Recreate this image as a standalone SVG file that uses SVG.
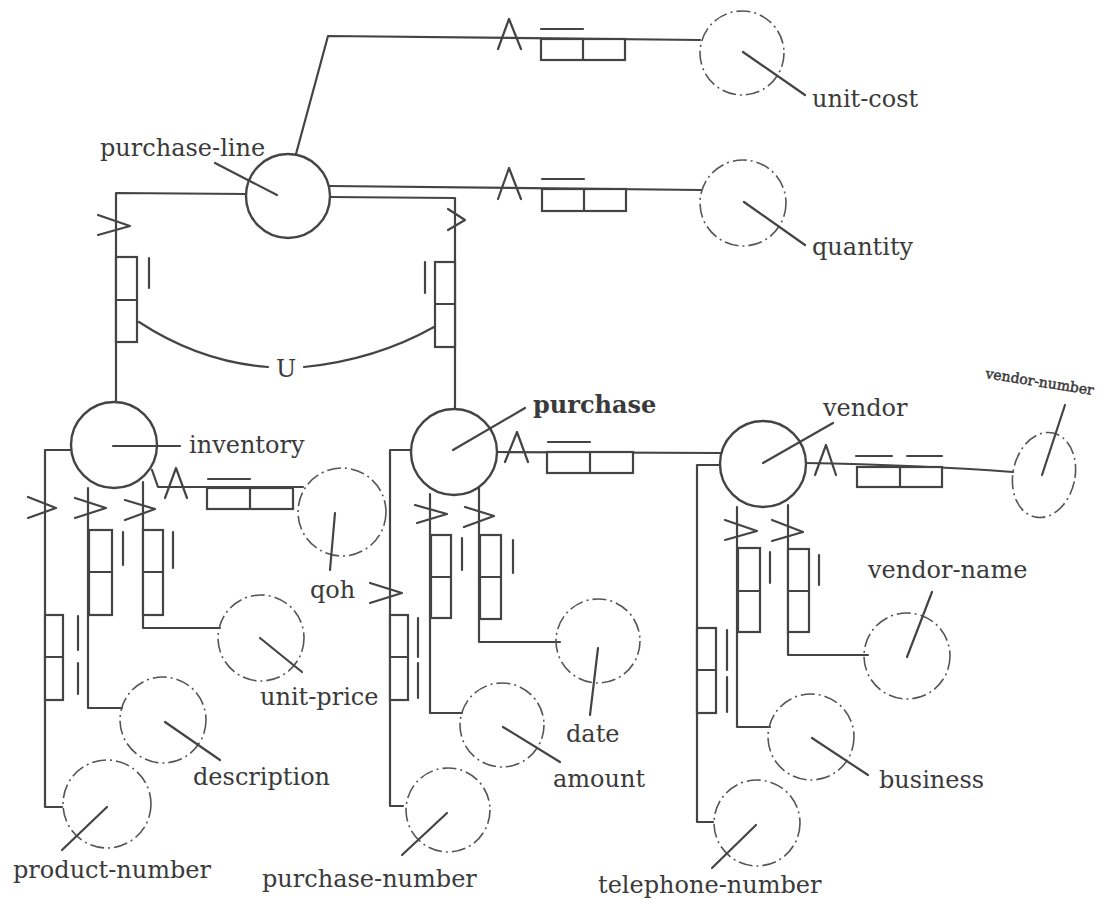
<svg xmlns="http://www.w3.org/2000/svg" width="1109" height="905" viewBox="0 0 1109 905">
<style>
.ln{fill:none;stroke:#444;stroke-width:2.2;stroke-linecap:round;stroke-linejoin:round}
.ent{fill:#fff;stroke:#444;stroke-width:2.4}
.att{fill:none;stroke:#555;stroke-width:1.6;stroke-dasharray:14 4 2 4}
.bx{fill:#fff;stroke:#444;stroke-width:2.2}
.t{font-family:"DejaVu Serif","Liberation Serif",serif;font-size:24px;fill:#3a3a3a}
.small{font-size:14px;stroke:#3a3a3a;stroke-width:0.5}
</style>
<rect width="1109" height="905" fill="#fff"/>
<g id="connectors">
  <!-- purchase-line to unit-cost -->
  <polyline class="ln" points="296,154 328,36 700,40"/>
  <polyline class="ln" points="498,49 509,19 521,49"/>
  <line class="ln" x1="541" y1="29" x2="583" y2="29"/>
  <rect class="bx" x="541" y="39" width="84" height="21"/>
  <line class="ln" x1="583" y1="39" x2="583" y2="60"/>
  <!-- purchase-line to quantity -->
  <polyline class="ln" points="329,186 701,190"/>
  <polyline class="ln" points="498,199 509,168 521,199"/>
  <line class="ln" x1="542" y1="179" x2="584" y2="179"/>
  <rect class="bx" x="542" y="189" width="84" height="22"/>
  <line class="ln" x1="584" y1="189" x2="584" y2="211"/>
  <!-- purchase-line to inventory / purchase (union) -->
  <polyline class="ln" points="247,194 116,193 116,402"/>
  <polyline class="ln" points="329,197 455,198 455,409"/>
  <polyline class="ln" points="98,215 130,226 98,235"/>
  <polyline class="ln" points="448,209 465,220 448,230"/>
  <rect class="bx" x="116" y="257" width="21" height="85"/>
  <line class="ln" x1="116" y1="300" x2="137" y2="300"/>
  <line class="ln" x1="149" y1="258" x2="149" y2="288"/>
  <rect class="bx" x="435" y="262" width="20" height="85"/>
  <line class="ln" x1="435" y1="304" x2="455" y2="304"/>
  <line class="ln" x1="425" y1="262" x2="425" y2="293"/>
  <path class="ln" d="M139,322 Q200,362 268,367"/>
  <path class="ln" d="M304,367 Q375,360 434,327"/>
  <text class="t" x="286" y="377" text-anchor="middle">U</text>
  <!-- inventory branches -->
  <polyline class="ln" points="71,450 45,450 45,807 62,807"/>
  <polyline class="ln" points="28,497 56,508 28,518"/>
  <rect class="bx" x="45" y="615" width="18" height="85"/>
  <line class="ln" x1="45" y1="657" x2="63" y2="657"/>
  <line class="ln" x1="78" y1="616" x2="78" y2="650"/>
  <line class="ln" x1="78" y1="663" x2="78" y2="694"/>
  <polyline class="ln" points="88,488 88,708 122,708"/>
  <polyline class="ln" points="75,498 106,508 75,518"/>
  <rect class="bx" x="89" y="530" width="23" height="85"/>
  <line class="ln" x1="89" y1="572" x2="112" y2="572"/>
  <line class="ln" x1="123" y1="532" x2="123" y2="565"/>
  <polyline class="ln" points="143,482 143,628 220,628"/>
  <polyline class="ln" points="125,500 155,509 125,520"/>
  <rect class="bx" x="143" y="530" width="20" height="85"/>
  <line class="ln" x1="143" y1="572" x2="163" y2="572"/>
  <line class="ln" x1="173" y1="532" x2="173" y2="568"/>
  <polyline class="ln" points="152,470 158,487 303,487"/>
  <polyline class="ln" points="165,498 176,468 187,498"/>
  <line class="ln" x1="208" y1="479" x2="250" y2="479"/>
  <rect class="bx" x="207" y="488" width="86" height="21"/>
  <line class="ln" x1="250" y1="488" x2="250" y2="509"/>
  <!-- purchase branches -->
  <polyline class="ln" points="412,450 390,450 390,806 403,806"/>
  <polyline class="ln" points="370,583 402,593 370,603"/>
  <rect class="bx" x="390" y="615" width="18" height="85"/>
  <line class="ln" x1="390" y1="657" x2="408" y2="657"/>
  <line class="ln" x1="418" y1="618" x2="418" y2="657"/>
  <line class="ln" x1="418" y1="663" x2="418" y2="698"/>
  <polyline class="ln" points="430,494 430,713 462,713"/>
  <polyline class="ln" points="415,505 447,514 417,523"/>
  <rect class="bx" x="431" y="535" width="20" height="83"/>
  <line class="ln" x1="431" y1="577" x2="451" y2="577"/>
  <line class="ln" x1="462" y1="538" x2="462" y2="570"/>
  <polyline class="ln" points="479,486 479,642 560,642"/>
  <polyline class="ln" points="465,507 494,516 464,527"/>
  <rect class="bx" x="480" y="535" width="21" height="84"/>
  <line class="ln" x1="480" y1="577" x2="501" y2="577"/>
  <line class="ln" x1="513" y1="540" x2="513" y2="573"/>
  <!-- purchase to vendor -->
  <polyline class="ln" points="497,452 721,453"/>
  <polyline class="ln" points="505,462 517,432 528,462"/>
  <line class="ln" x1="548" y1="442" x2="590" y2="442"/>
  <rect class="bx" x="547" y="452" width="86" height="21"/>
  <line class="ln" x1="590" y1="452" x2="590" y2="473"/>
  <!-- vendor to vendor-number -->
  <path class="ln" d="M805,463 Q920,465 1013,472"/>
  <polyline class="ln" points="815,475 826,445 836,475"/>
  <line class="ln" x1="856" y1="456" x2="892" y2="456"/>
  <line class="ln" x1="907" y1="456" x2="942" y2="456"/>
  <rect class="bx" x="857" y="467" width="85" height="20"/>
  <line class="ln" x1="900" y1="467" x2="900" y2="487"/>
  <!-- vendor branches -->
  <polyline class="ln" points="720,465 697,465 697,822 713,822"/>
  <rect class="bx" x="697" y="628" width="19" height="85"/>
  <line class="ln" x1="697" y1="670" x2="716" y2="670"/>
  <line class="ln" x1="727" y1="630" x2="727" y2="670"/>
  <line class="ln" x1="727" y1="677" x2="727" y2="712"/>
  <polyline class="ln" points="737,507 737,727 770,727"/>
  <polyline class="ln" points="725,520 757,531 725,540"/>
  <rect class="bx" x="738" y="548" width="22" height="84"/>
  <line class="ln" x1="738" y1="591" x2="760" y2="591"/>
  <line class="ln" x1="770" y1="552" x2="770" y2="583"/>
  <polyline class="ln" points="788,505 788,655 868,655"/>
  <polyline class="ln" points="772,520 803,532 772,541"/>
  <rect class="bx" x="788" y="549" width="21" height="83"/>
  <line class="ln" x1="788" y1="591" x2="809" y2="591"/>
  <line class="ln" x1="819" y1="555" x2="819" y2="585"/>
</g>
<g id="purchase-line">
  <circle class="ent" cx="288" cy="196" r="42"/>
  <line class="ln" x1="215" y1="163" x2="277" y2="195"/>
  <text class="t" x="100" y="156">purchase-line</text>
</g>
<g id="unit-cost">
  <circle class="att" cx="742" cy="53" r="42"/>
  <line class="ln" x1="743" y1="52" x2="805" y2="95"/>
  <text class="t" x="812" y="107">unit-cost</text>
</g>
<g id="quantity">
  <circle class="att" cx="743" cy="203" r="43"/>
  <line class="ln" x1="744" y1="202" x2="805" y2="245"/>
  <text class="t" x="812" y="255">quantity</text>
</g>
<g id="inventory">
  <circle class="ent" cx="114" cy="445" r="43"/>
  <line class="ln" x1="113" y1="446" x2="180" y2="446"/>
  <text class="t" x="189" y="453">inventory</text>
</g>
<g id="qoh">
  <circle class="att" cx="342" cy="512" r="44"/>
  <line class="ln" x1="335" y1="513" x2="330" y2="570"/>
  <text class="t" x="310" y="598">qoh</text>
</g>
<g id="unit-price">
  <circle class="att" cx="261" cy="638" r="43"/>
  <line class="ln" x1="260" y1="638" x2="302" y2="672"/>
  <text class="t" x="260" y="705">unit-price</text>
</g>
<g id="description">
  <circle class="att" cx="163" cy="720" r="43"/>
  <line class="ln" x1="165" y1="722" x2="220" y2="760"/>
  <text class="t" x="193" y="785">description</text>
</g>
<g id="product-number">
  <circle class="att" cx="107" cy="804" r="44"/>
  <line class="ln" x1="107" y1="807" x2="62" y2="850"/>
  <text class="t" x="13" y="878">product-number</text>
</g>
<g id="purchase">
  <circle class="ent" cx="454" cy="452" r="43"/>
  <line class="ln" x1="453" y1="450" x2="525" y2="408"/>
  <text class="t" x="533" y="413" font-weight="bold">purchase</text>
</g>
<g id="date">
  <circle class="att" cx="598" cy="641" r="42"/>
  <line class="ln" x1="598" y1="648" x2="590" y2="715"/>
  <text class="t" x="566" y="742">date</text>
</g>
<g id="amount">
  <circle class="att" cx="502" cy="725" r="42"/>
  <line class="ln" x1="503" y1="727" x2="560" y2="762"/>
  <text class="t" x="553" y="787">amount</text>
</g>
<g id="purchase-number">
  <circle class="att" cx="448" cy="810" r="42"/>
  <line class="ln" x1="447" y1="813" x2="402" y2="855"/>
  <text class="t" x="262" y="887">purchase-number</text>
</g>
<g id="vendor">
  <circle class="ent" cx="763" cy="464" r="43"/>
  <line class="ln" x1="763" y1="463" x2="833" y2="423"/>
  <text class="t" x="823" y="416">vendor</text>
</g>
<g id="vendor-number">
  <ellipse class="att" cx="1044" cy="475" rx="31" ry="43" transform="rotate(12 1044 475)"/>
  <line class="ln" x1="1042" y1="475" x2="1065" y2="405"/>
  <text class="t small" x="985" y="378" transform="rotate(9 985 378)">vendor-number</text>
</g>
<g id="vendor-name">
  <circle class="att" cx="907" cy="656" r="43"/>
  <line class="ln" x1="907" y1="657" x2="932" y2="592"/>
  <text class="t" x="868" y="578">vendor-name</text>
</g>
<g id="business">
  <circle class="att" cx="811" cy="737" r="43"/>
  <line class="ln" x1="812" y1="738" x2="868" y2="775"/>
  <text class="t" x="879" y="788">business</text>
</g>
<g id="telephone-number">
  <circle class="att" cx="757" cy="823" r="43"/>
  <line class="ln" x1="756" y1="825" x2="712" y2="868"/>
  <text class="t" x="598" y="893">telephone-number</text>
</g>
</svg>
